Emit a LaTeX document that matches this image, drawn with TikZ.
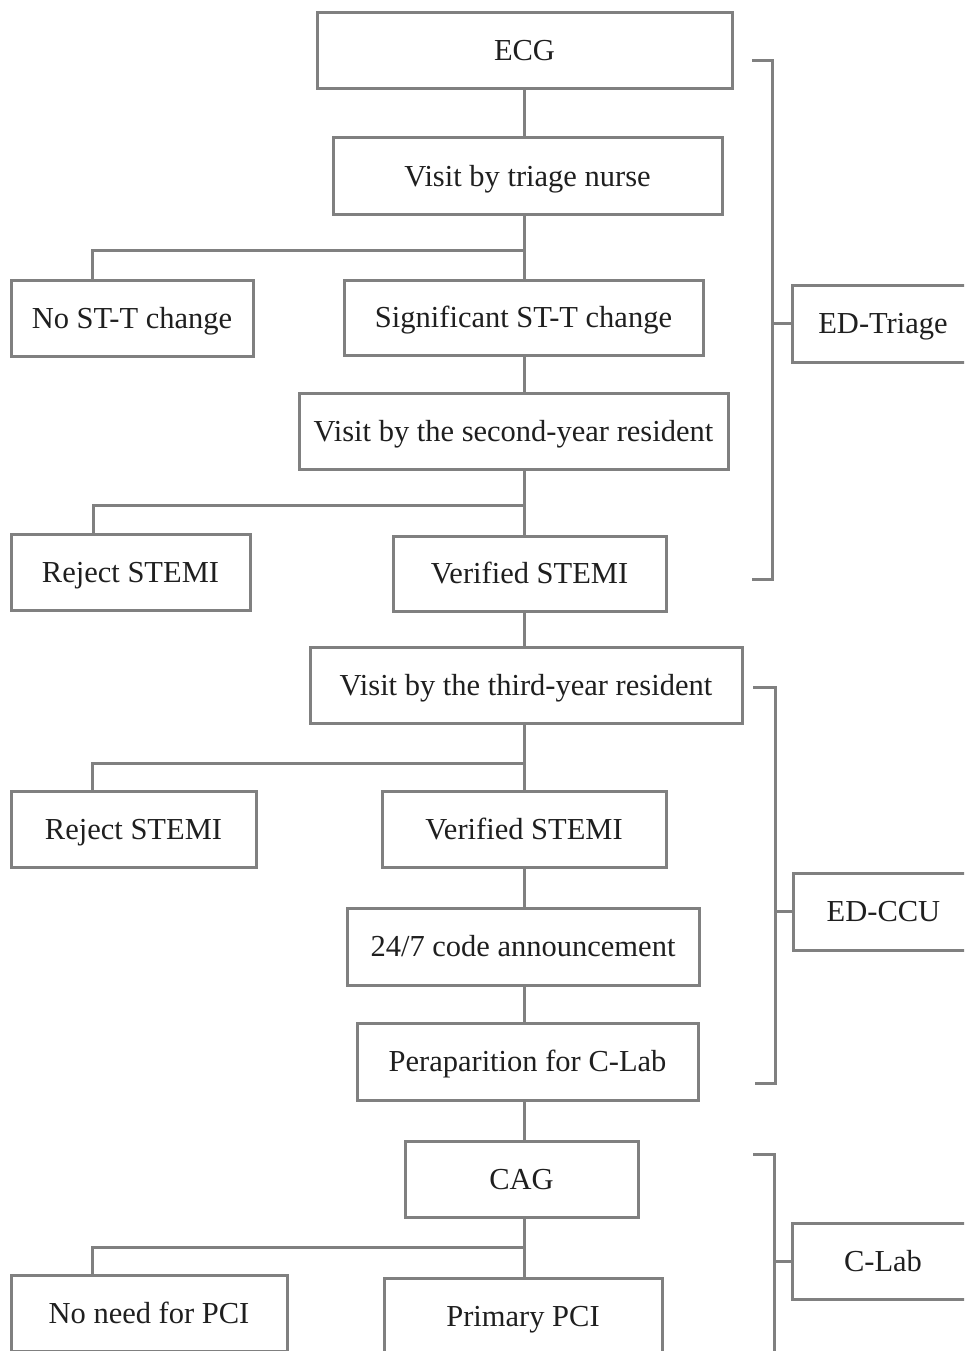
\documentclass[tikz,border=0pt]{standalone}
\usepackage{fontspec}
\setmainfont{Liberation Serif}
\begin{document}
\begin{tikzpicture}[x=1pt,y=-1pt,
  ln/.style={draw=black!50,line width=3pt},
  box/.style={ln,rectangle,inner sep=0pt,text=black!88,text height=20pt,text depth=0pt,font=\fontsize{30.5}{36}\selectfont},
]
\useasboundingbox (0,0) rectangle (964,1351);
\clip (0,0) rectangle (964,1351);
\fill[white] (0,0) rectangle (964,1351);
% main column
\node[box,minimum width=415pt,minimum height=76pt] (ecg) at (524.5,51) {ECG};
\node[box,minimum width=389pt,minimum height=76pt] (nurse) at (527.5,176) {Visit by triage nurse};
\node[box,minimum width=242pt,minimum height=76pt] (nost) at (132,318) {No ST-T change};
\node[box,minimum width=359pt,minimum height=75pt] (sig) at (523.5,317.5) {Significant ST-T change};
\node[box,minimum width=429pt,minimum height=76pt] (res2) at (513.5,431) {Visit by the second-year resident};
\node[box,minimum width=239pt,minimum height=76pt] (rej1) at (130.5,572) {Reject STEMI};
\node[box,minimum width=273pt,minimum height=75pt] (ver1) at (529.5,573.5) {Verified STEMI};
\node[box,minimum width=432pt,minimum height=76pt] (res3) at (526,685) {Visit by the third-year resident};
\node[box,minimum width=245pt,minimum height=76pt] (rej2) at (133.5,829) {Reject STEMI};
\node[box,minimum width=284pt,minimum height=76pt] (ver2) at (524,829) {Verified STEMI};
\node[box,minimum width=352pt,minimum height=77pt] (code) at (523,946.5) {24/7 code announcement};
\node[box,minimum width=341pt,minimum height=77pt] (prep) at (527.5,1061.5) {Peraparition for C-Lab};
\node[box,minimum width=233pt,minimum height=76pt] (cag) at (521.5,1179) {CAG};
\node[box,minimum width=276pt,minimum height=76pt] (noneed) at (149,1313) {No need for PCI};
\node[box,minimum width=278pt,minimum height=76pt] (ppci) at (523,1316) {Primary PCI};
% phase labels
\node[box,minimum width=182pt,minimum height=77pt] (triage) at (883,323.5) {ED-Triage};
\node[box,minimum width=181pt,minimum height=77pt] (ccu) at (883.5,911.5) {ED-CCU};
\node[box,minimum width=182pt,minimum height=76pt] (clab) at (883,1261) {C-Lab};
% trunk coordinates
\coordinate (tx) at (524,0);
\coordinate (b1) at (524,250);
\coordinate (b2) at (524,505);
\coordinate (b3) at (524,763);
\coordinate (b4) at (524,1247);
% connectors
\draw[ln] (ecg.south -| tx) -- (nurse.north -| tx);
\draw[ln] (nurse.south -| tx) -- (sig.north -| tx);
\draw[ln] (b1) -- (92,250) -- (nost.north -| 92,0);
\draw[ln] (sig.south -| tx) -- (res2.north -| tx);
\draw[ln] (res2.south -| tx) -- (ver1.north -| tx);
\draw[ln] (b2) -- (93,505) -- (rej1.north -| 93,0);
\draw[ln] (ver1.south -| tx) -- (res3.north -| tx);
\draw[ln] (res3.south -| tx) -- (ver2.north -| tx);
\draw[ln] (b3) -- (92,763) -- (rej2.north -| 92,0);
\draw[ln] (ver2.south -| tx) -- (code.north -| tx);
\draw[ln] (code.south -| tx) -- (prep.north -| tx);
\draw[ln] (prep.south -| tx) -- (cag.north -| tx);
\draw[ln] (cag.south -| tx) -- (ppci.north -| tx);
\draw[ln] (b4) -- (92,1247) -- (noneed.north -| 92,0);
% brackets
\coordinate (k1a) at (752,61);
\coordinate (k1b) at (752,579);
\draw[ln] (k1a) -- (772,61) -- (772,579) -- (k1b);
\draw[ln] (772,323.5) -- (triage.west);
\coordinate (k2a) at (753,687);
\coordinate (k2b) at (755,1083);
\draw[ln] (k2a) -- (775,687) -- (775,1083) -- (k2b);
\draw[ln] (775,911.5) -- (ccu.west);
\coordinate (k3a) at (753,1154);
\coordinate (k3b) at (774,1365);
\draw[ln] (k3a) -- (774,1154) -- (k3b);
\draw[ln] (774,1261) -- (clab.west);
\end{tikzpicture}
\end{document}
